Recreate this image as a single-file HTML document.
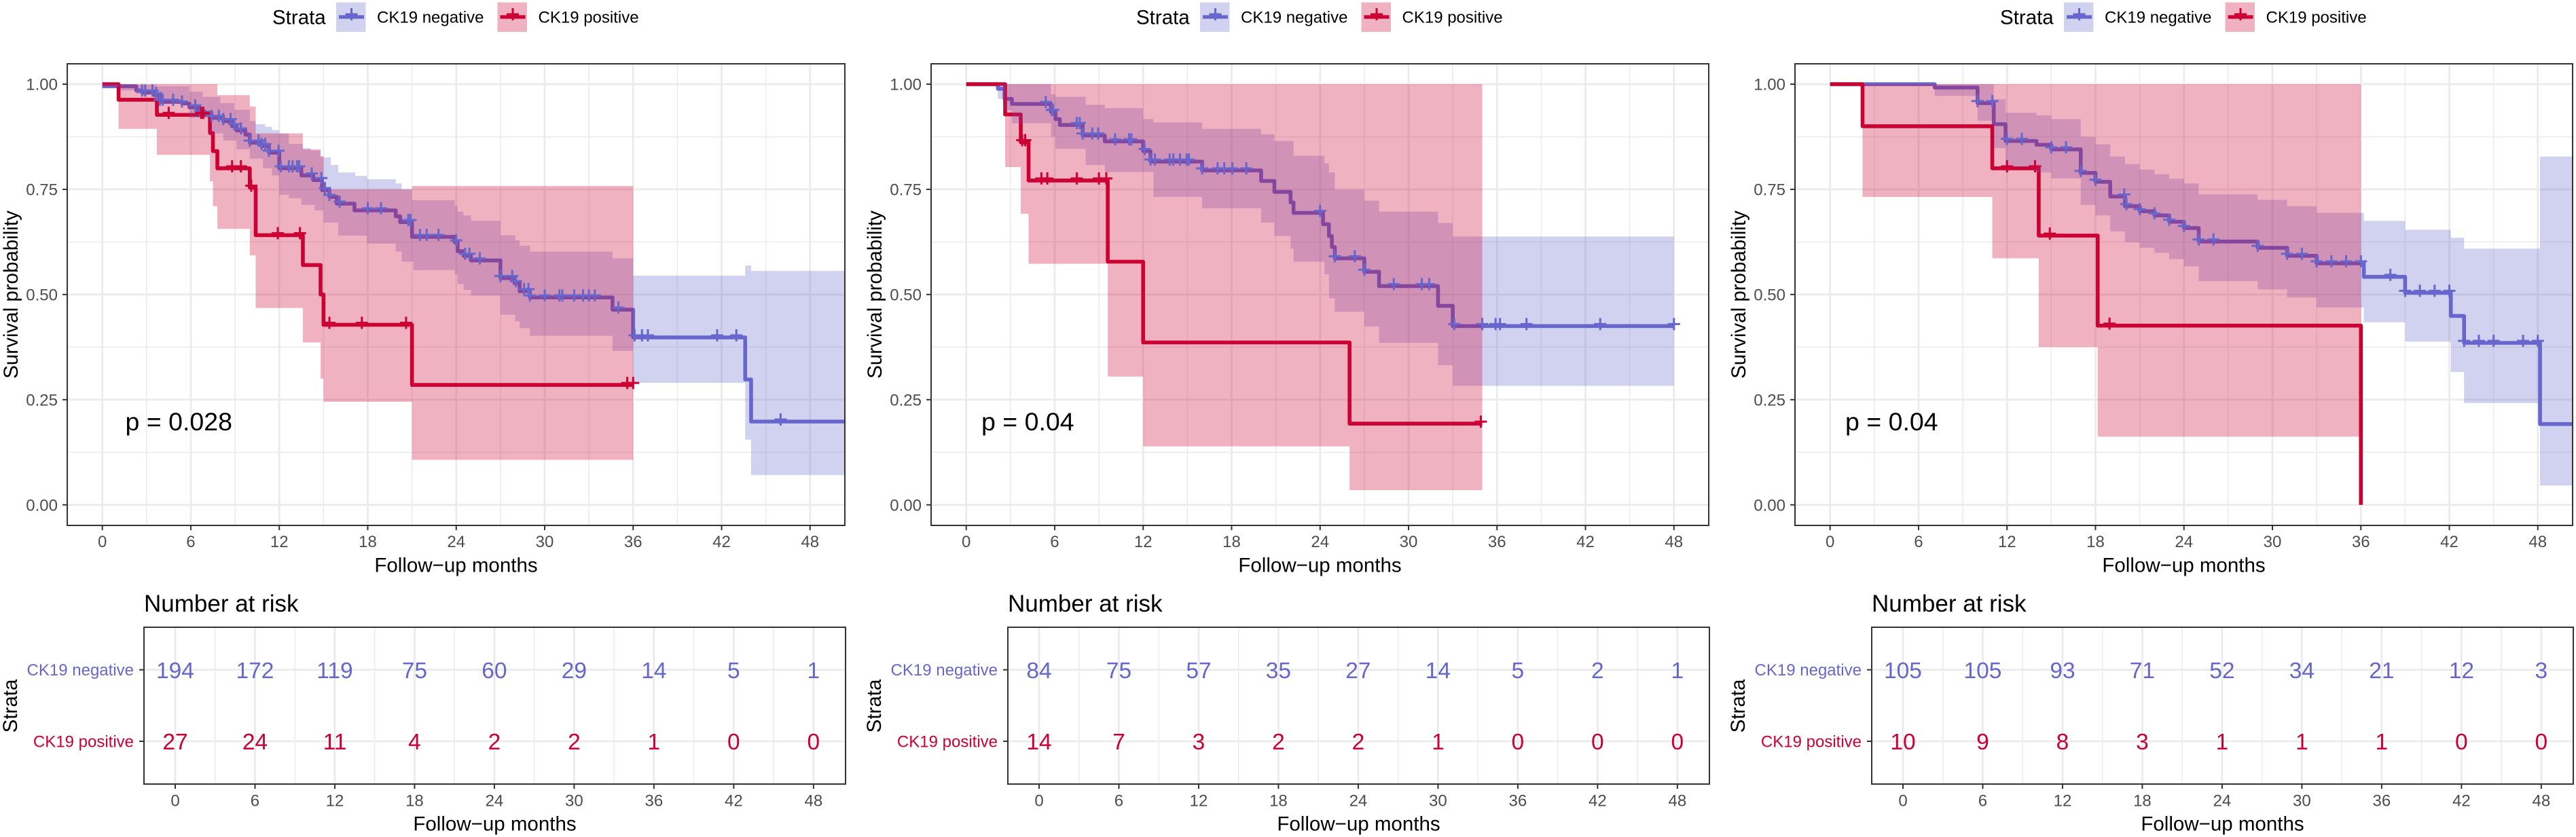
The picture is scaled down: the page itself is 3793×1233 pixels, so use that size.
<!DOCTYPE html>
<html lang="en">
<head>
<meta charset="utf-8">
<title>Kaplan-Meier curves by CK19 status</title>
<style>
html,body{margin:0;padding:0;background:#fff;width:3793px;height:1233px;overflow:hidden}
svg{display:block;font-family:"Liberation Sans",Arial,sans-serif}
.tick{font-size:24px;fill:#4d4d4d}
.title{font-size:29.5px;fill:#000}
.leg{font-size:24px;fill:#000}
</style>
</head>
<body>
<svg id="chart" xmlns="http://www.w3.org/2000/svg" width="3793" height="1233" viewBox="0 0 3793 1233">
<rect width="3793" height="1233" fill="#fff"/>
<defs>
<clipPath id="plot-clip"><rect x="99" y="94" width="1145" height="680"/></clipPath>
</defs>

<g id="panel-0">
<g id="plot-0"></g>
<g id="risk-0"></g>
<text class="title" x="401" y="35.7">Strata</text>
<g><rect x="495" y="3.5" width="43.5" height="43.5" fill="#d1d1f0"/><path d="M499 25H536" stroke="#6666cc" stroke-width="5.3"/><path d="M517.5 12V30M508.5 21H526.5" stroke="#6666cc" stroke-width="3"/></g>
<text class="leg" x="555" y="33.7">CK19 negative</text>
<g><rect x="732.5" y="3.5" width="43.5" height="43.5" fill="#f0b2c2"/><path d="M736.5 25H773.5" stroke="#cc0033" stroke-width="5.3"/><path d="M755 12V30M746 21H764" stroke="#cc0033" stroke-width="3"/></g>
<text class="leg" x="792.5" y="33.7">CK19 positive</text>
<text x="184.5" y="634" font-size="37.5" fill="#000">p = 0.028</text>
<text class="title" text-anchor="middle" transform="translate(26,434) rotate(-90)">Survival probability</text>
<text class="title" text-anchor="middle" x="671.5" y="842.5">Follow−up months</text>
<text x="212" y="901" font-size="35" fill="#000">Number at risk</text>
<text class="title" text-anchor="middle" transform="translate(25,1040) rotate(-90)">Strata</text>
<text class="title" text-anchor="middle" x="728.5" y="1223.5">Follow−up months</text>
</g>

<g id="panel-1" transform="translate(1272,0)">
<g id="plot-1"></g>
<g id="risk-1"></g>
<text class="title" x="401" y="35.7">Strata</text>
<g><rect x="495" y="3.5" width="43.5" height="43.5" fill="#d1d1f0"/><path d="M499 25H536" stroke="#6666cc" stroke-width="5.3"/><path d="M517.5 12V30M508.5 21H526.5" stroke="#6666cc" stroke-width="3"/></g>
<text class="leg" x="555" y="33.7">CK19 negative</text>
<g><rect x="732.5" y="3.5" width="43.5" height="43.5" fill="#f0b2c2"/><path d="M736.5 25H773.5" stroke="#cc0033" stroke-width="5.3"/><path d="M755 12V30M746 21H764" stroke="#cc0033" stroke-width="3"/></g>
<text class="leg" x="792.5" y="33.7">CK19 positive</text>
<text x="173" y="634" font-size="37.5" fill="#000">p = 0.04</text>
<text class="title" text-anchor="middle" transform="translate(26,434) rotate(-90)">Survival probability</text>
<text class="title" text-anchor="middle" x="671.5" y="842.5">Follow−up months</text>
<text x="212" y="901" font-size="35" fill="#000">Number at risk</text>
<text class="title" text-anchor="middle" transform="translate(25,1040) rotate(-90)">Strata</text>
<text class="title" text-anchor="middle" x="728.5" y="1223.5">Follow−up months</text>
</g>

<g id="panel-2" transform="translate(2544,0)">
<g id="plot-2"></g>
<g id="risk-2"></g>
<text class="title" x="401" y="35.7">Strata</text>
<g><rect x="495" y="3.5" width="43.5" height="43.5" fill="#d1d1f0"/><path d="M499 25H536" stroke="#6666cc" stroke-width="5.3"/><path d="M517.5 12V30M508.5 21H526.5" stroke="#6666cc" stroke-width="3"/></g>
<text class="leg" x="555" y="33.7">CK19 negative</text>
<g><rect x="732.5" y="3.5" width="43.5" height="43.5" fill="#f0b2c2"/><path d="M736.5 25H773.5" stroke="#cc0033" stroke-width="5.3"/><path d="M755 12V30M746 21H764" stroke="#cc0033" stroke-width="3"/></g>
<text class="leg" x="792.5" y="33.7">CK19 positive</text>
<text x="173" y="634" font-size="37.5" fill="#000">p = 0.04</text>
<text class="title" text-anchor="middle" transform="translate(26,434) rotate(-90)">Survival probability</text>
<text class="title" text-anchor="middle" x="671.5" y="842.5">Follow−up months</text>
<text x="212" y="901" font-size="35" fill="#000">Number at risk</text>
<text class="title" text-anchor="middle" transform="translate(25,1040) rotate(-90)">Strata</text>
<text class="title" text-anchor="middle" x="728.5" y="1223.5">Follow−up months</text>
</g>
</svg>

<script>
// ---- axis values ----
const xTicks = [0, 6, 12, 18, 24, 30, 36, 42, 48];
const xMinorTicks = [3, 9, 15, 21, 27, 33, 39, 45];
const yTicks = [0, 0.25, 0.5, 0.75, 1];
const yTickLabels = ['0.00', '0.25', '0.50', '0.75', '1.00'];
const yMinorTicks = [0.125, 0.375, 0.625, 0.875];
const strataLabels = ['CK19 negative', 'CK19 positive'];

// ---- left panel ----
const p0NegTime = [0, 2.3, 2.7, 3.5, 3.9, 5.4, 5.9, 6.5, 7.4, 8.2, 8.8, 9.1, 9.7, 10, 10.8, 11.3, 12, 13.5, 14.3, 14.9, 15.4, 15.9, 17.1, 19.9, 20.2, 21, 23.9, 24.1, 24.5, 25, 27, 27.95, 28.3, 29, 34.6, 36, 43.6, 44, 51];
const p0NegSurv = [0.995, 0.985, 0.98, 0.974, 0.958, 0.954, 0.945, 0.932, 0.92, 0.912, 0.9, 0.89, 0.88, 0.861, 0.853, 0.837, 0.8, 0.783, 0.772, 0.748, 0.732, 0.716, 0.7, 0.686, 0.672, 0.637, 0.624, 0.603, 0.592, 0.581, 0.539, 0.527, 0.508, 0.493, 0.464, 0.398, 0.298, 0.198, 0.198];
const p0NegUpperTime = [0, 2.3, 3.7, 5.9, 6.8, 8, 8.95, 10, 10.4, 11.05, 11.5, 12, 12.65, 13.6, 14.15, 14.8, 15.5, 16, 17.15, 17.95, 19.9, 20.3, 21, 23.9, 24.1, 24.5, 25, 27, 28, 28.3, 29, 34.6, 36, 43.6, 44, 51];
const p0NegUpper = [1, 0.998, 0.995, 0.982, 0.97, 0.955, 0.939, 0.912, 0.905, 0.899, 0.891, 0.883, 0.858, 0.848, 0.842, 0.826, 0.808, 0.79, 0.782, 0.774, 0.764, 0.75, 0.724, 0.71, 0.697, 0.688, 0.675, 0.641, 0.629, 0.616, 0.602, 0.586, 0.545, 0.569, 0.556, 0.556];
const p0NegLowerTime = [0, 1.2, 2.3, 3.65, 5.9, 7.35, 8.2, 9.1, 10, 10.9, 11.5, 12, 12.65, 13.5, 14.4, 15, 16, 17.95, 19.9, 20.3, 21.1, 23.9, 24.1, 24.5, 25, 27, 28, 28.3, 29, 34.6, 36, 43.6, 44, 51];
const p0NegLower = [0.995, 0.985, 0.977, 0.96, 0.92, 0.883, 0.866, 0.845, 0.823, 0.8, 0.783, 0.737, 0.729, 0.713, 0.7, 0.671, 0.64, 0.621, 0.602, 0.578, 0.558, 0.548, 0.525, 0.511, 0.498, 0.452, 0.436, 0.42, 0.402, 0.366, 0.29, 0.155, 0.071, 0.071];
const p0NegCensor = [2.7, 2.9, 3.4, 3.65, 3.9, 4.1, 4.8, 5.4, 6.3, 6.65, 7.4, 7.9, 8.2, 8.7, 8.95, 9.4, 10, 10.6, 10.8, 11.05, 11.3, 11.95, 12.1, 12.65, 12.9, 13.2, 13.35, 14.2, 14.85, 15.1, 15.4, 16.1, 18, 18.9, 20.75, 20.9, 21.55, 22, 22.8, 24, 24.6, 24.9, 25.6, 27, 27.8, 28.05, 28.6, 28.9, 29, 30, 31, 31.2, 32, 32.6, 33, 33.4, 35, 36.1, 36.6, 37, 41.7, 43, 46];
const p0PosTime = [0, 1.1, 3.7, 7.3, 7.5, 7.8, 10, 10.4, 13.6, 14.8, 15, 21, 36];
const p0PosSurv = [1, 0.963, 0.927, 0.884, 0.841, 0.8, 0.754, 0.641, 0.57, 0.5, 0.428, 0.285, 0.285];
const p0PosUpperTime = [1.1, 7.8, 10, 10.4, 13.6, 14.8, 15, 21, 36];
const p0PosUpper = [1, 0.974, 0.947, 0.883, 0.845, 0.829, 0.75, 0.758, 0.758];
const p0PosLowerTime = [1.1, 3.7, 7.3, 7.5, 7.8, 10, 10.4, 13.6, 14.8, 15, 21, 36];
const p0PosLower = [0.894, 0.832, 0.769, 0.71, 0.656, 0.593, 0.468, 0.386, 0.3, 0.245, 0.107, 0.107];
const p0PosCensor = [4.5, 6.7, 6.85, 8.8, 9.4, 10.1, 11.9, 13.4, 15.4, 17.6, 20.6, 35.6, 36];
const p0RiskNeg = [194, 172, 119, 75, 60, 29, 14, 5, 1];
const p0RiskPos = [27, 24, 11, 4, 2, 2, 1, 0, 0];

// ---- middle panel ----
const p1NegTime = [0, 2.15, 2.6, 3.1, 5.75, 6.05, 6.35, 7.9, 9.4, 12, 12.5, 16, 20, 20.9, 22, 22.2, 24.2, 24.6, 24.8, 25, 27, 28, 32, 33, 48];
const p1NegSurv = [1, 0.989, 0.965, 0.953, 0.934, 0.917, 0.903, 0.878, 0.864, 0.841, 0.816, 0.795, 0.77, 0.744, 0.719, 0.694, 0.667, 0.639, 0.613, 0.586, 0.554, 0.52, 0.473, 0.425, 0.425];
const p1NegUpperTime = [2.15, 5.75, 6.05, 8.1, 9.4, 12, 12.7, 16, 20, 20.9, 22.2, 24.3, 24.6, 25, 27, 28, 32, 33, 48];
const p1NegUpper = [1, 0.976, 0.97, 0.951, 0.943, 0.917, 0.909, 0.894, 0.881, 0.865, 0.83, 0.812, 0.79, 0.749, 0.723, 0.697, 0.67, 0.638, 0.638];
const p1NegLowerTime = [2.15, 2.6, 3.1, 5.75, 6.05, 8.1, 9.4, 12.7, 16, 20, 20.9, 22, 22.2, 24.3, 24.6, 25, 27, 28, 32, 33, 48];
const p1NegLower = [0.965, 0.938, 0.907, 0.875, 0.846, 0.808, 0.791, 0.732, 0.705, 0.671, 0.639, 0.609, 0.578, 0.548, 0.491, 0.459, 0.424, 0.385, 0.332, 0.283, 0.283];
const p1NegCensor = [5.4, 5.8, 5.9, 7.5, 7.7, 7.9, 8.55, 8.95, 10.1, 11.05, 11.2, 12.1, 12.5, 12.8, 13.8, 14.05, 14.5, 14.95, 15.1, 16, 17.05, 17.5, 18.05, 19, 24, 25, 26.35, 27, 29, 30.9, 31.4, 33.1, 35, 35.9, 36.2, 38, 43, 48];
const p1PosTime = [0, 2.64, 3.7, 4.23, 9.6, 12, 26, 35];
const p1PosSurv = [1, 0.928, 0.862, 0.771, 0.578, 0.386, 0.193, 0.193];
const p1PosUpperTime = [2.64, 35];
const p1PosUpper = [1, 1];
const p1PosLowerTime = [2.64, 3.7, 4.23, 9.6, 12, 26, 35];
const p1PosLower = [0.803, 0.692, 0.573, 0.305, 0.139, 0.035, 0.035];
const p1PosCensor = [3.8, 4.0, 5.1, 5.5, 7.5, 9.0, 9.5, 34.9];
const p1RiskNeg = [84, 75, 57, 35, 27, 14, 5, 2, 1];
const p1RiskPos = [14, 7, 3, 2, 2, 1, 0, 0, 0];

// ---- right panel ----
const p2NegTime = [0, 7.1, 10, 11.1, 11.9, 14, 15, 17, 18, 19, 20, 21, 22, 23, 24, 25, 29, 31, 33, 36.2, 39, 42.1, 43, 48.15, 51];
const p2NegSurv = [1, 0.992, 0.955, 0.905, 0.865, 0.856, 0.845, 0.789, 0.768, 0.733, 0.71, 0.698, 0.688, 0.673, 0.658, 0.626, 0.611, 0.592, 0.574, 0.542, 0.504, 0.449, 0.385, 0.192, 0.192];
const p2NegUpperTime = [7.1, 11.1, 11.9, 14, 15, 17, 18, 19, 20, 21, 22, 23, 24, 25, 29, 31, 33, 36.2, 39, 42.1, 43, 48.15, 51];
const p2NegUpper = [1, 0.964, 0.932, 0.926, 0.917, 0.875, 0.857, 0.828, 0.81, 0.797, 0.786, 0.775, 0.764, 0.738, 0.725, 0.71, 0.694, 0.675, 0.654, 0.635, 0.609, 0.828, 0.828];
const p2NegLowerTime = [7.1, 10, 11.1, 11.9, 14, 15, 17, 18, 19, 20, 21, 22, 23, 24, 25, 29, 31, 33, 36.2, 39, 42.1, 43, 48.15, 51];
const p2NegLower = [0.972, 0.913, 0.848, 0.803, 0.79, 0.776, 0.713, 0.688, 0.65, 0.624, 0.611, 0.599, 0.584, 0.567, 0.532, 0.512, 0.493, 0.469, 0.434, 0.388, 0.316, 0.242, 0.046, 0.046];
const p2NegCensor = [10, 11, 12, 13, 15, 16, 17, 18, 19.95, 20.1, 21, 22, 23, 24, 25, 26, 29, 31, 32, 33, 34, 35, 36, 38, 39, 40, 41, 42, 43, 44, 45, 47, 48];
const p2PosTime = [0, 2.2, 11, 14.15, 18.15, 36, 36];
const p2PosSurv = [1, 0.9, 0.8, 0.64, 0.426, 0, 0];
const p2PosUpperTime = [2.2, 36];
const p2PosUpper = [1, 1];
const p2PosLowerTime = [2.2, 11, 14.15, 18.15, 36];
const p2PosLower = [0.732, 0.586, 0.375, 0.162, 0.162];
const p2PosCensor = [12, 13.9, 14.9, 18.95];
const p2RiskNeg = [105, 105, 93, 71, 52, 34, 21, 12, 3];
const p2RiskPos = [10, 9, 8, 3, 1, 1, 1, 0, 0];

const BLUE = '#6666cc', RED = '#cc0033', BLUE_FILL = 'rgba(102,102,204,0.3)', RED_FILL = 'rgba(204,0,51,0.3)';
const GRID = '#ebebeb', BORDER = '#333333';

// ---- axis functions ----
const xMain = t => 150.7 + t * 21.71;
const yMain = s => 743.7 - s * 619.7;
const xRisk = t => 258 + t * 19.58;
const yRisk = i => 986.7 + i * 105.3;

const NS = 'http://www.w3.org/2000/svg';
function make(parent, tag, attrs, txt) {
  const n = document.createElementNS(NS, tag);
  for (const k in attrs) n.setAttribute(k, attrs[k]);
  if (txt !== undefined) n.textContent = txt;
  parent.appendChild(n);
  return n;
}
function stepPoints(times, vals) {
  const pts = [];
  for (let i = 0; i < times.length; i++) {
    if (i > 0) pts.push([xMain(times[i]), yMain(vals[i - 1])]);
    pts.push([xMain(times[i]), yMain(vals[i])]);
  }
  return pts;
}
function toD(pts) {
  return 'M' + pts.map(p => p[0].toFixed(2) + ' ' + p[1].toFixed(2)).join('L');
}
function survAt(times, vals, t) {
  let s = vals[0];
  for (let i = 0; i < times.length; i++) if (times[i] <= t) s = vals[i];
  return s;
}

function drawPlot(idx, d) {
  const g = document.getElementById('plot-' + idx);
  const bg = make(g, 'rect', {x: 99, y: 94, width: 1145, height: 680, fill: '#fff'});
  
  

  const grid = make(g, 'g', {});
  
  
  xMinorTicks.forEach(t => {
    make(grid, 'line', {x1: xMain(t), x2: xMain(t), y1: 94, y2: 774, stroke: GRID, 'stroke-width': 1.5});
  });
  yMinorTicks.forEach(s => {
    make(grid, 'line', {x1: 99, x2: 1244, y1: yMain(s), y2: yMain(s), stroke: GRID, 'stroke-width': 1.5});
  });
  xTicks.forEach(t => {
    make(grid, 'line', {x1: xMain(t), x2: xMain(t), y1: 94, y2: 774, stroke: GRID, 'stroke-width': 2.8});
  });
  yTicks.forEach(s => {
    make(grid, 'line', {x1: 99, x2: 1244, y1: yMain(s), y2: yMain(s), stroke: GRID, 'stroke-width': 2.8});
  });

  const marks = make(g, 'g', {'clip-path': 'url(#plot-clip)'});
  
  

  const negLine = make(marks, 'path', {d: toD(stepPoints(d.negT, d.negS)), fill: 'none', stroke: BLUE, 'stroke-width': 5.6, 'stroke-linejoin': 'round'});
  
  
  const posLine = make(marks, 'path', {d: toD(stepPoints(d.posT, d.posS)), fill: 'none', stroke: RED, 'stroke-width': 5.6, 'stroke-linejoin': 'round'});
  
  

  const negBand = make(marks, 'path', {d: toD(stepPoints(d.negUT, d.negU).concat(stepPoints(d.negLT, d.negL).reverse())) + 'Z', fill: BLUE_FILL});
  
  
  const posBand = make(marks, 'path', {d: toD(stepPoints(d.posUT, d.posU).concat(stepPoints(d.posLT, d.posL).reverse())) + 'Z', fill: RED_FILL});
  
  

  [[d.negC, d.negT, d.negS, BLUE, 'negative'], [d.posC, d.posT, d.posS, RED, 'positive']].forEach(set => {
    set[0].forEach(t => {
      const cx = xMain(t), cy = yMain(survAt(set[1], set[2], t)) - 3;
      const mark = make(marks, 'path', {d: 'M' + cx + ' ' + (cy - 9) + 'V' + (cy + 9) + 'M' + (cx - 9) + ' ' + cy + 'H' + (cx + 9), stroke: set[3], 'stroke-width': 3, fill: 'none'});
      
      
    });
  });

  const frame = make(g, 'rect', {x: 99, y: 94, width: 1145, height: 680, fill: 'none', stroke: BORDER, 'stroke-width': 2});
  
  

  xTicks.forEach(t => {
    const tk = make(g, 'line', {x1: xMain(t), x2: xMain(t), y1: 774, y2: 781, stroke: BORDER, 'stroke-width': 2});
    
    
    const lb = make(g, 'text', {x: xMain(t), y: 806, 'text-anchor': 'middle', class: 'tick'}, String(t));
    
    
  });
  yTicks.forEach((s, i) => {
    const tk = make(g, 'line', {x1: 92, x2: 99, y1: yMain(s), y2: yMain(s), stroke: BORDER, 'stroke-width': 2});
    
    
    const lb = make(g, 'text', {x: 85, y: yMain(s) + 8.6, 'text-anchor': 'end', class: 'tick'}, yTickLabels[i]);
    
    
  });
}

function drawRisk(idx, negCounts, posCounts) {
  const g = document.getElementById('risk-' + idx);
  const L = 212, R = 1245, T = 924, B = 1155;
  const grid = make(g, 'g', {});
  
  
  xMinorTicks.forEach(t => {
    make(grid, 'line', {x1: xRisk(t), x2: xRisk(t), y1: T, y2: B, stroke: GRID, 'stroke-width': 1.5});
  });
  xTicks.forEach(t => {
    make(grid, 'line', {x1: xRisk(t), x2: xRisk(t), y1: T, y2: B, stroke: GRID, 'stroke-width': 2.8});
  });
  [0, 1].forEach(r => {
    make(grid, 'line', {x1: L, x2: R, y1: yRisk(r), y2: yRisk(r), stroke: GRID, 'stroke-width': 2.8});
  });
  [[negCounts, BLUE], [posCounts, RED]].forEach((row, r) => {
    xTicks.forEach((t, i) => {
      const c = make(g, 'text', {x: xRisk(t), y: yRisk(r) + 12.2, 'text-anchor': 'middle', 'font-size': 33.5, fill: row[1]}, String(row[0][i]));
      
      
    });
    const tk = make(g, 'line', {x1: L - 7, x2: L, y1: yRisk(r), y2: yRisk(r), stroke: BORDER, 'stroke-width': 2});
    
    
    const lb = make(g, 'text', {x: 197, y: yRisk(r) + 8.4, 'text-anchor': 'end', 'font-size': 24, fill: row[1]}, strataLabels[r]);
    
    
  });
  const frame = make(g, 'rect', {x: L, y: T, width: R - L, height: B - T, fill: 'none', stroke: BORDER, 'stroke-width': 2});
  
  
  xTicks.forEach(t => {
    const tk = make(g, 'line', {x1: xRisk(t), x2: xRisk(t), y1: B, y2: B + 7, stroke: BORDER, 'stroke-width': 2});
    
    
    const lb = make(g, 'text', {x: xRisk(t), y: 1187.5, 'text-anchor': 'middle', class: 'tick'}, String(t));
    
    
  });
}

drawPlot(0, {negT: p0NegTime, negS: p0NegSurv, negUT: p0NegUpperTime, negU: p0NegUpper, negLT: p0NegLowerTime, negL: p0NegLower, negC: p0NegCensor,
             posT: p0PosTime, posS: p0PosSurv, posUT: p0PosUpperTime, posU: p0PosUpper, posLT: p0PosLowerTime, posL: p0PosLower, posC: p0PosCensor});
drawPlot(1, {negT: p1NegTime, negS: p1NegSurv, negUT: p1NegUpperTime, negU: p1NegUpper, negLT: p1NegLowerTime, negL: p1NegLower, negC: p1NegCensor,
             posT: p1PosTime, posS: p1PosSurv, posUT: p1PosUpperTime, posU: p1PosUpper, posLT: p1PosLowerTime, posL: p1PosLower, posC: p1PosCensor});
drawPlot(2, {negT: p2NegTime, negS: p2NegSurv, negUT: p2NegUpperTime, negU: p2NegUpper, negLT: p2NegLowerTime, negL: p2NegLower, negC: p2NegCensor,
             posT: p2PosTime, posS: p2PosSurv, posUT: p2PosUpperTime, posU: p2PosUpper, posLT: p2PosLowerTime, posL: p2PosLower, posC: p2PosCensor});
drawRisk(0, p0RiskNeg, p0RiskPos);
drawRisk(1, p1RiskNeg, p1RiskPos);
drawRisk(2, p2RiskNeg, p2RiskPos);
</script>
</body>
</html>
